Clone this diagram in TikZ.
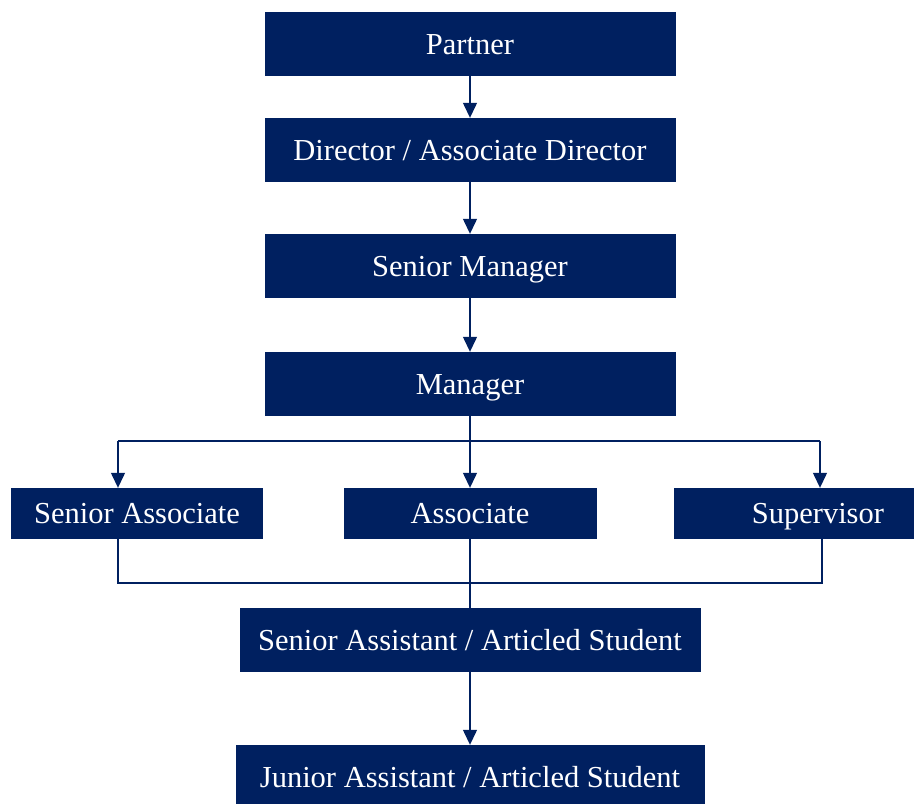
\documentclass[tikz,border=0pt]{standalone}
\usepackage{fontspec}
\setmainfont{Liberation Serif}
\usetikzlibrary{arrows.meta}
\definecolor{navy}{HTML}{002060}
\tikzset{
	box/.style={fill=navy,text=white,minimum height=64pt,inner sep=0pt,text height=22pt,text depth=2pt,font=\fontsize{30.5}{36}\selectfont},
	small/.style={box,minimum height=51pt},
	link/.style={draw=navy,line width=1.3pt},
	arr/.style={link,-{Triangle[width=14pt,length=15pt]}}
}

\begin{document}
\begin{tikzpicture}[x=1pt,y=-1pt]
	\useasboundingbox (0,0) rectangle (914,804);

	\node[box,minimum width=411pt]		(partner)	at (470,44)		{Partner};
	\node[box,minimum width=411pt]		(director)	at (470,150)	{Director / Associate Director};
	\node[box,minimum width=411pt]		(smanager)	at (470,266)	{Senior Manager};
	\node[box,minimum width=411pt]		(manager)	at (470,384)	{Manager};
	\node[small,minimum width=252pt]	(sassoc)	at (137,513.5)	{Senior Associate};
	\node[small,minimum width=253pt]	(assoc)		at (470,513.5)	{Associate};
	\node[small,text width=180pt,align=right,inner xsep=30pt]	(superv)	at (794,513.5)	{Supervisor};
	\node[box,minimum width=461pt]		(sassist)	at (470,640)	{Senior Assistant / Articled Student};
	\node[box,minimum width=469pt]		(jassist)	at (470,777)	{Junior Assistant / Articled Student};

	\coordinate (bl) at (118,441);
	\coordinate (br) at (820,441);
	\coordinate (cl) at (118,583);
	\coordinate (cr) at (822,583);

	\draw[arr]	(partner) -- (director);
	\draw[arr]	(director) -- (smanager);
	\draw[arr]	(smanager) -- (manager);
	\draw[arr]	(manager) -- (assoc);
	\draw[link]	(bl) -- (br);
	\draw[arr]	(bl) -- (bl |- sassoc.north);
	\draw[arr]	(br) -- (br |- superv.north);
	\draw[link]	(cl |- sassoc.south) -- (cl) -- (cr) -- (cr |- superv.south);
	\draw[link]	(assoc) -- (sassist);
	\draw[arr]	(sassist) -- (jassist);
\end{tikzpicture}
\end{document}
